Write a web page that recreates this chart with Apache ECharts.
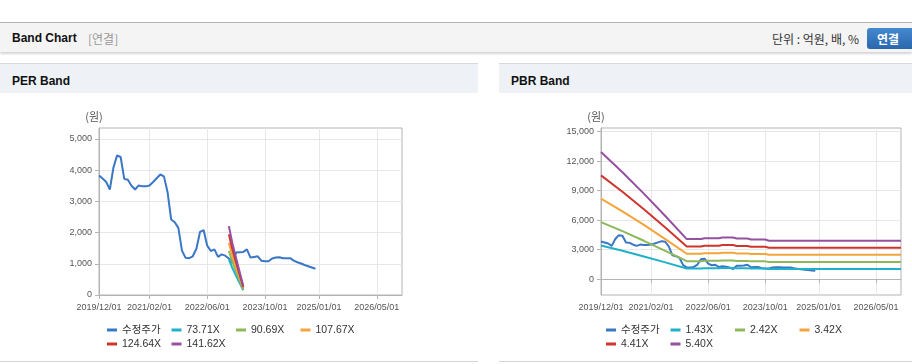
<!DOCTYPE html>
<html>
<head>
<meta charset="utf-8">
<script src="https://cdn.jsdelivr.net/npm/echarts@6/dist/echarts.min.js"></script>
<style>
  html, body { margin:0; padding:0; }
  body { width:912px; height:364px; overflow:hidden; background:#fff; position:relative;
         font-family:"Liberation Sans", Arial, "Noto Sans CJK KR", sans-serif; color:#222; }
  .abs { position:absolute; }
  #topline { left:0; top:22px; width:912px; height:1px; background:#b5b5b5; }
  #hdr { left:0; top:23px; width:912px; height:29px; background:#f4f4f4;
         box-shadow:0 2px 2px rgba(0,0,0,0.16); }
  #hdr .t { position:absolute; left:12px; top:1px; line-height:29px; font-size:12px; font-weight:bold; color:#111; }
  #hdr .s { position:absolute; left:88px; top:1px; line-height:29px; font-size:12px; color:#999;
            font-family:"Noto Sans CJK KR","Liberation Sans",sans-serif; }
  #unit { right:53px; top:24px; line-height:29px; font-size:12px; color:#333;
          font-family:"Noto Sans CJK KR","Liberation Sans",sans-serif; }
  #btn { left:867px; top:28px; width:50px; height:21px; border-radius:3px;
         background:linear-gradient(#4489cf,#2a67ae); color:#fff; font-size:12px; font-weight:bold;
         line-height:21px; padding-left:10px; box-sizing:border-box;
         font-family:"Noto Sans CJK KR","Liberation Sans",sans-serif; }
  .phead { top:63px; height:30px; background:#eef2f7; border-top:1px solid #d9d9d9; box-sizing:border-box; }
  .phead span { position:absolute; left:12px; top:3px; line-height:29px; font-size:12px; font-weight:bold; color:#111; }
  .pbottom { top:361px; height:1px; background:#d6d6d6; }
  .chart { top:93px; height:268px; }
</style>
</head>
<body>
<div id="topline" class="abs"></div>
<div id="hdr" class="abs"><span class="t">Band Chart</span><span class="s">[연결]</span></div>
<div id="unit" class="abs">단위 : 억원, 배, %</div>
<div id="btn" class="abs">연결</div>

<div class="abs phead" style="left:0;width:478px;"><span>PER Band</span></div>
<div class="abs phead" style="left:499px;width:413px;"><span>PBR Band</span></div>
<div id="per" class="abs chart" style="left:0;width:478px;"></div>
<div id="pbr" class="abs chart" style="left:499px;width:413px;"></div>
<div class="abs pbottom" style="left:0;width:478px;"></div>
<div class="abs pbottom" style="left:499px;width:413px;"></div>

<script>
// ---- categories: monthly, 2019/12 .. 2026/12 ----
const months = [];
for (let y = 2019, m = 12; y < 2026 || (y === 2026 && m <= 12); ) {
  months.push(y + '/' + String(m).padStart(2, '0') + '/01');
  m++; if (m > 12) { m = 1; y++; }
}
const xTickLabels = ['2019/12/01', '2021/02/01', '2022/06/01', '2023/10/01', '2025/01/01', '2026/05/01'];

// ---- 수정주가 (monthly, 2019/12 .. 2024/12) ----
const price = [3830, 3730, 3620, 3380, 4080, 4470, 4420, 3720, 3690, 3500, 3380, 3510,
               3480, 3480, 3510, 3620, 3740, 3860, 3800, 3300, 2420, 2330, 2150, 1420,
               1190, 1180, 1240, 1480, 2020, 2080, 1580, 1410, 1460, 1220, 1300, 1260,
               1170, 1020, 1360, 1370, 1380, 1460, 1200, 1220, 1240, 1100, 1080, 1080,
               1170, 1200, 1210, 1180, 1180, 1180, 1100, 1050, 1010, 960, 920, 880, 840];

// ---- PER bands ----
const perNames = ['73.71X', '90.69X', '107.67X', '124.64X', '141.62X'];
const perBandDates = ['2022/12/01', '2023/01/01', '2023/02/01', '2023/03/01', '2023/04/01'];
const per7371  = [1148, 856, 615, 383, 150];
const per9069  = [1413, 1053, 757, 472, 184];
const per10767 = [1677, 1250, 899, 560, 219];
const per12464 = [1942, 1447, 1041, 648, 253];
const per14162 = [2206, 1644, 1183, 736, 287];
const perTicks = [0, 1000, 2000, 3000, 4000, 5000];

// ---- PBR bands ----
const pbrNames = ['1.43X', '2.42X', '3.42X', '4.41X', '5.40X'];
const pbrBandDates = ['2019/12/01', '2020/06/01', '2020/12/01', '2021/06/01', '2021/12/01',
                      '2022/04/01', '2022/05/01', '2022/09/01', '2022/10/01', '2023/01/01',
                      '2023/02/01', '2023/05/01', '2023/06/01', '2023/10/01', '2023/11/01', '2026/12/01'];
const pbr143 = [3423, 2881, 2304, 1700, 1078, 1078, 1101, 1101, 1123, 1123, 1094, 1094, 1065, 1065, 1032, 1032];
const pbr242 = [5793, 4876, 3899, 2877, 1825, 1825, 1863, 1863, 1900, 1900, 1851, 1851, 1803, 1803, 1747, 1747];
const pbr342 = [8187, 6891, 5510, 4066, 2579, 2579, 2633, 2633, 2685, 2685, 2616, 2616, 2548, 2548, 2469, 2469];
const pbr441 = [10558, 8886, 7105, 5243, 3325, 3325, 3396, 3396, 3462, 3462, 3374, 3374, 3285, 3285, 3184, 3184];
const pbr540 = [12928, 10881, 8699, 6421, 4072, 4072, 4158, 4158, 4239, 4239, 4131, 4131, 4023, 4023, 3899, 3899];
const pbrTicks = [0, 3000, 6000, 9000, 12000, 15000];

const colors = ['#3a77c6', '#1fb1c8', '#8cb85a', '#f3a53a', '#cf352d', '#9650a0'];
const AX = '#b4b4b4', GRID = '#e7e7e7', LBL = '#555';
const fmt = v => Number(v).toLocaleString('en-US');
const showTick = (i, v) => xTickLabels.indexOf(v) >= 0;

function pairs(dates, vals) { return dates.map((d, i) => [d, vals[i]]); }

function buildOption(gridLeft, gridWidth, yMin, yMax, yTicks, bandNames, bandDates, bandVals) {
  const series = [{
    name: '수정주가', type: 'line', data: price, showSymbol: false, symbol: 'none',
    lineStyle: { width: 2, color: colors[0] }, itemStyle: { color: colors[0] }, z: 2
  }];
  bandNames.forEach((n, k) => series.push({
    name: n, type: 'line', data: pairs(bandDates, bandVals[k]), showSymbol: false, symbol: 'none',
    lineStyle: { width: 2, color: colors[k + 1] }, itemStyle: { color: colors[k + 1] }, z: 3
  }));
  return {
    animation: false,
    color: colors,
    grid: { left: gridLeft, top: 35, width: gridWidth, height: 167, show: true,
            borderColor: AX, borderWidth: 1, backgroundColor: 'transparent' },
    legend: {
      left: 107, top: 231, width: 262, itemWidth: 10, itemHeight: 3, itemGap: 2,
      icon: 'rect', padding: 0,
      textStyle: { fontSize: 10.5, color: '#333', width: 47.5, lineHeight: 12,
                   fontFamily: '"Liberation Sans", Arial, "Noto Sans CJK KR", sans-serif' },
      data: series.map(s => s.name)
    },
    xAxis: {
      type: 'category', data: months, boundaryGap: false,
      axisLine: { lineStyle: { color: AX } },
      axisTick: { show: true, length: 4, interval: showTick, lineStyle: { color: AX } },
      axisLabel: { interval: showTick, fontSize: 9, color: LBL, margin: 8,
                   fontFamily: '"Liberation Sans", Arial, sans-serif' },
      splitLine: { show: true, interval: showTick, lineStyle: { color: GRID } }
    },
    yAxis: {
      type: 'value', min: yMin, max: yMax,
      name: '(원)', nameLocation: 'end', nameGap: 6,
      nameTextStyle: { fontSize: 11, color: LBL, align: 'center', padding: [0, 10, 0, 0],
                       fontFamily: '"Noto Sans CJK KR", sans-serif' },
      axisLine: { show: true, lineStyle: { color: AX } },
      axisTick: { show: true, length: 4, customValues: yTicks, lineStyle: { color: AX } },
      axisLabel: { customValues: yTicks, formatter: fmt, fontSize: 9, color: LBL, margin: 7,
                   fontFamily: '"Liberation Sans", Arial, sans-serif' },
      splitLine: { show: true, lineStyle: { color: GRID } }
    },
    series: series
  };
}

const perChart = echarts.init(document.getElementById('per'), null, { renderer: 'canvas' });
perChart.setOption(buildOption(99, 303, 0, 5350, perTicks, perNames, perBandDates,
  [per7371, per9069, per10767, per12464, per14162]));

const pbrChart = echarts.init(document.getElementById('pbr'), null, { renderer: 'canvas' });
pbrChart.setOption(buildOption(102, 300, -1620, 15380, pbrTicks, pbrNames, pbrBandDates,
  [pbr143, pbr242, pbr342, pbr441, pbr540]));
</script>
</body>
</html>
